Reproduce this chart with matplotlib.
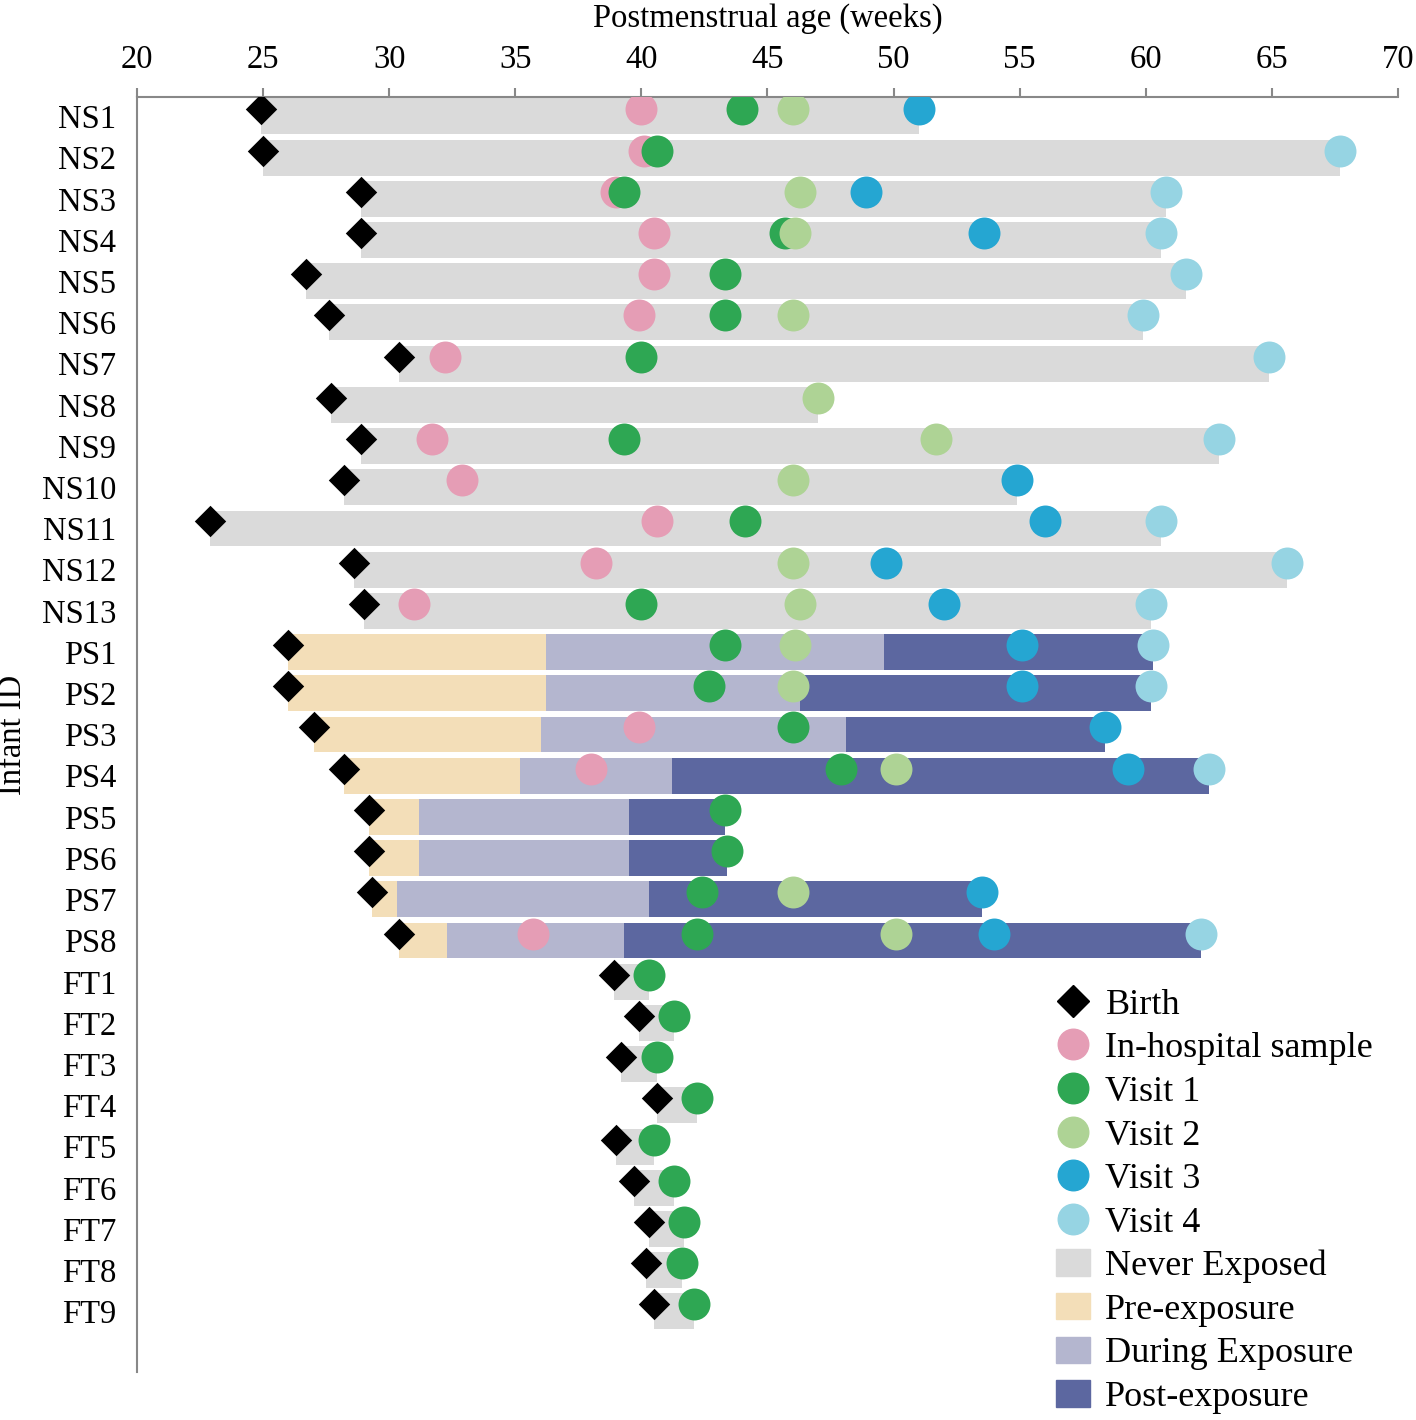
import numpy as np
import matplotlib
matplotlib.use("Agg")
import matplotlib.pyplot as plt
from matplotlib.lines import Line2D
from matplotlib.patches import Patch

nan = np.nan

ids = ["NS1", "NS2", "NS3", "NS4", "NS5", "NS6", "NS7", "NS8", "NS9", "NS10",
       "NS11", "NS12", "NS13", "PS1", "PS2", "PS3", "PS4", "PS5", "PS6", "PS7",
       "PS8", "FT1", "FT2", "FT3", "FT4", "FT5", "FT6", "FT7", "FT8", "FT9"]

birth = [24.9, 25.0, 28.9, 28.9, 26.7, 27.6, 30.4, 27.7, 28.9, 28.2,
         22.9, 28.6, 29.0, 26.0, 26.0, 27.0, 28.2, 29.2, 29.2, 29.3,
         30.4, 38.9, 39.9, 39.2, 40.6, 39.0, 39.7, 40.3, 40.2, 40.5]

in_hospital = [40.0, 40.1, 39.0, 40.5, 40.5, 39.9, 32.2, nan, 31.7, 32.9,
               40.6, 38.2, 31.0, nan, nan, 39.9, 38.0, nan, nan, nan,
               35.7, nan, nan, nan, nan, nan, nan, nan, nan, nan]

visit1 = [44.0, 40.6, 39.3, 45.7, 43.3, 43.3, 40.0, nan, 39.3, nan,
          44.1, nan, 40.0, 43.3, 42.7, 46.0, 47.9, 43.3, 43.4, 42.4,
          42.2, 40.3, 41.3, 40.6, 42.2, 40.5, 41.3, 41.7, 41.6, 42.1]

visit2 = [46.0, nan, 46.3, 46.1, nan, 46.0, nan, 47.0, 51.7, 46.0,
          nan, 46.0, 46.3, 46.1, 46.0, nan, 50.1, nan, nan, 46.0,
          50.1, nan, nan, nan, nan, nan, nan, nan, nan, nan]

visit3 = [51.0, nan, 48.9, 53.6, nan, nan, nan, nan, nan, 54.9,
          56.0, 49.7, 52.0, 55.1, 55.1, 58.4, 59.3, nan, nan, 53.5,
          54.0, nan, nan, nan, nan, nan, nan, nan, nan, nan]

visit4 = [nan, 67.7, 60.8, 60.6, 61.6, 59.9, 64.9, nan, 62.9, nan,
          60.6, 65.6, 60.2, 60.3, 60.2, nan, 62.5, nan, nan, nan,
          62.2, nan, nan, nan, nan, nan, nan, nan, nan, nan]

# exposure phases for the PS infants (end of pre-exposure / end of exposure)
ps_ids = ["PS1", "PS2", "PS3", "PS4", "PS5", "PS6", "PS7", "PS8"]
pre_end = [36.2, 36.2, 36.0, 35.2, 31.2, 31.2, 30.3, 32.3]
during_end = [49.6, 46.3, 48.1, 41.2, 39.5, 39.5, 40.3, 39.3]

c_never = "#dadada"
c_pre = "#f3deb8"
c_during = "#b4b6cf"
c_post = "#5c67a0"
c_ih = "#e59db5"
c_v1 = "#2ea753"
c_v2 = "#aed395"
c_v3 = "#25a6d2"
c_v4 = "#96d4e3"

plt.rcParams["font.family"] = ["Liberation Serif", "DejaVu Serif"]
fs = 23.5

fig = plt.figure(figsize=(14.16, 14.2), dpi=100)
ax = fig.add_axes([137 / 1416, 1 - 1372 / 1420, 1261 / 1416, 1275 / 1420])

y = np.arange(len(ids))
marker_off = -0.17
bar_h = 0.87

visits = np.array([in_hospital, visit1, visit2, visit3, visit4])
last = np.nanmax(visits, axis=0)

for i, name in enumerate(ids):
    if name in ps_ids:
        k = ps_ids.index(name)
        ax.barh(y[i], pre_end[k] - birth[i], left=birth[i], height=bar_h, color=c_pre)
        ax.barh(y[i], during_end[k] - pre_end[k], left=pre_end[k], height=bar_h, color=c_during)
        ax.barh(y[i], last[i] - during_end[k], left=during_end[k], height=bar_h, color=c_post)
    else:
        ax.barh(y[i], last[i] - birth[i], left=birth[i], height=bar_h, color=c_never)

ym = y + marker_off
ax.scatter(birth, ym, marker="D", s=16 ** 2, color="black", zorder=3, linewidths=0)
for vals, col in zip([in_hospital, visit1, visit2, visit3, visit4],
                     [c_ih, c_v1, c_v2, c_v3, c_v4]):
    ax.scatter(vals, ym, marker="o", s=23 ** 2, color=col, zorder=4, linewidths=0)

ax.set_xlim(20, 70)
ax.set_ylim(30.64 + marker_off, -0.30 + marker_off)
ax.xaxis.tick_top()
ax.xaxis.set_label_position("top")
ax.set_xticks(np.arange(20, 71, 5))
ax.set_yticks(y)
ax.set_yticklabels(ids)
ax.tick_params(axis="x", direction="out", length=6.5, width=1.5, color="#888888",
               labelsize=fs, pad=9)
ax.tick_params(axis="y", length=0, labelsize=fs, pad=15)
for side in ["right", "bottom"]:
    ax.spines[side].set_visible(False)
for side in ["top", "left"]:
    ax.spines[side].set_color("#888888")
    ax.spines[side].set_linewidth(1.5)

ax.set_xlabel("Postmenstrual age (weeks)", fontsize=fs, labelpad=13)
ax.set_ylabel("Infant ID", fontsize=fs, labelpad=10)

handles = [
    Line2D([], [], marker="D", color="black", linestyle="", markersize=16),
    Line2D([], [], marker="o", color=c_ih, linestyle="", markersize=22),
    Line2D([], [], marker="o", color=c_v1, linestyle="", markersize=22),
    Line2D([], [], marker="o", color=c_v2, linestyle="", markersize=22),
    Line2D([], [], marker="o", color=c_v3, linestyle="", markersize=22),
    Line2D([], [], marker="o", color=c_v4, linestyle="", markersize=22),
    Patch(color=c_never), Patch(color=c_pre), Patch(color=c_during), Patch(color=c_post),
]
labels = ["Birth", "In-hospital sample", "Visit 1", "Visit 2", "Visit 3", "Visit 4",
          "Never Exposed", "Pre-exposure", "During Exposure", "Post-exposure"]
fig.legend(handles, labels, loc="upper left", bbox_to_anchor=(1056 / 1416, 1 - 988 / 1420),
           frameon=False, fontsize=26, handlelength=0.95, handleheight=0.75,
           handletextpad=0.42, labelspacing=0.27, borderpad=0, borderaxespad=0)

fig.savefig("out.png", dpi=100)
